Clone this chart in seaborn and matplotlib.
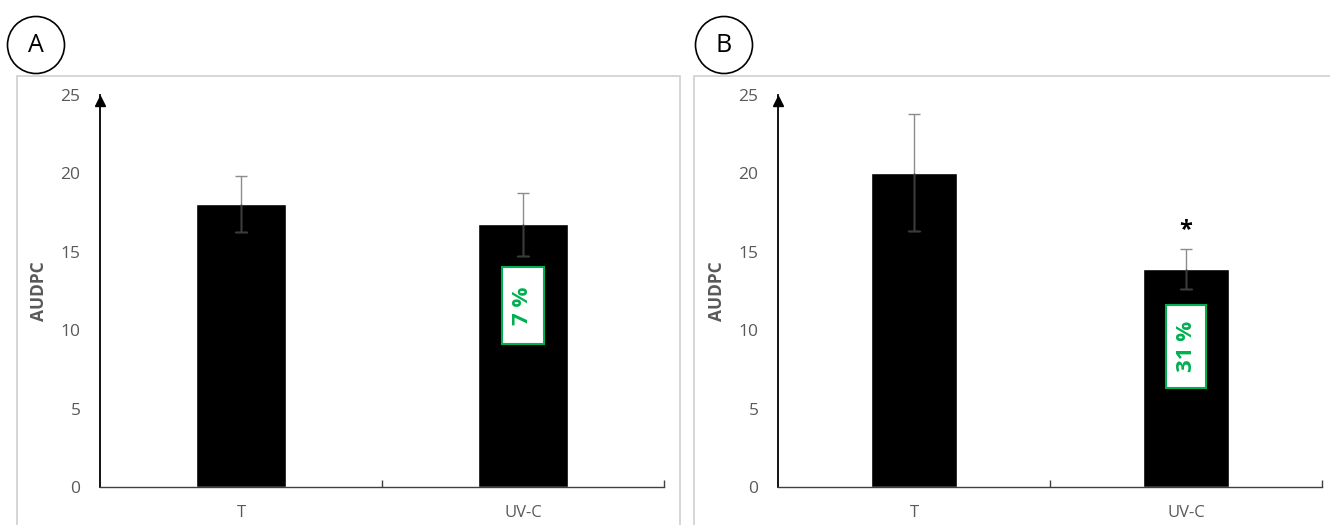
import numpy as np
import pandas as pd
import matplotlib
matplotlib.use("Agg")
import matplotlib.pyplot as plt
from matplotlib.patches import Rectangle, Ellipse
import seaborn as sns

# data
treatments = ["T", "UV-C"]
audpc_a = [18.05, 16.75]
err_a = [1.8, 2.0]
audpc_b = [20.05, 13.9]
err_b = [3.75, 1.3]
reduction_a = ["", "7 %"]
reduction_b = ["", "31 %"]
signif_b = ["", "*"]
panel_names = ["A", "B"]

sns.set_theme(style="white")
plt.rcParams['font.family'] = ['Open Sans', 'DejaVu Sans']

grey_txt = "#595959"
green = "#00B050"

fig = plt.figure(figsize=(13.3, 5.25), dpi=100)
W, H = 1330, 525

# axes rectangles in pixels: (left, right)
ax_px = [(100, 664), (778, 1322)]
frame_px = [(17, 680), (694, 1340)]
circle_px = [(36, 45), (724, 45)]
label_y = [(9.1, 14.0), (6.3, 11.6)]

for i, (vals, errs, red, name) in enumerate(zip([audpc_a, audpc_b], [err_a, err_b],
                                                [reduction_a, reduction_b], panel_names)):
    l, r = ax_px[i]
    ax = fig.add_axes([l / W, (525 - 487) / H, (r - l) / W, (487 - 95) / H])
    df = pd.DataFrame({"trt": treatments, "audpc": vals})
    sns.barplot(data=df, x="trt", y="audpc", color="black", width=0.318,
                errorbar=None, ax=ax, saturation=1)
    # error bars: upper half grey, lower half dark on the bar
    x = np.arange(len(vals))
    v = np.array(vals)
    e = np.array(errs)
    ax.errorbar(x, v, yerr=e, fmt="none", ecolor="#8c8c8c",
                elinewidth=1, capsize=4, capthick=1, zorder=3)
    ax.vlines(x, v - e, v, color="#3a3a3a", linewidth=1, zorder=4)
    ax.plot(x, v - e, linestyle="none", marker="_", markersize=8,
            markeredgewidth=1, color="#3a3a3a", zorder=4)

    ax.set_xlim(-0.5, 1.5)
    ax.set_ylim(0, 25)
    ax.set_yticks([0, 5, 10, 15, 20, 25])
    ax.tick_params(axis="y", direction="in", length=5, color="black", width=1,
                   labelsize=12.5, labelcolor=grey_txt, pad=14)
    ax.tick_params(axis="x", which="major", length=0, labelsize=12,
                   labelcolor=grey_txt, pad=13)
    ax.set_xticks([0.5, 1.5], minor=True)
    ax.tick_params(axis="x", which="minor", direction="in", length=5,
                   color="#404040", width=1, bottom=True)
    ax.set_xlabel("")
    ax.set_ylabel("AUDPC", fontsize=12.5, fontweight="bold", color=grey_txt, labelpad=9)
    for s in ["top", "right"]:
        ax.spines[s].set_visible(False)
    ax.spines["left"].set_color("black")
    ax.spines["left"].set_linewidth(1.3)
    ax.spines["bottom"].set_color("#404040")
    ax.spines["bottom"].set_linewidth(1)
    ax.plot([-0.5], [24.6], marker="^", color="black", markersize=7, clip_on=False)
    ax.patch.set_alpha(0)

    # percentage reduction boxes
    for j, t in enumerate(red):
        if t:
            y0, y1 = label_y[i]
            bw = 0.15
            ax.add_patch(Rectangle((j - bw / 2, y0), bw, y1 - y0, facecolor="white",
                                   edgecolor=green, linewidth=1.5, zorder=5))
            ax.text(j, (y0 + y1) / 2, t, rotation=90, ha="center", va="center",
                    color=green, fontsize=16, fontweight="bold", zorder=6)
    if i == 1:
        for j, s in enumerate(signif_b):
            if s:
                ax.text(j, vals[j] + errs[j] + 0.4, s, ha="center", va="bottom",
                        fontsize=17, fontweight="bold", color="black")

    # outer frame
    fl, fr = frame_px[i]
    fig.add_artist(Rectangle((fl / W, -0.01), (fr - fl) / W, (525 - 76) / H + 0.01,
                             transform=fig.transFigure, fill=False,
                             edgecolor="#d0d0d0", linewidth=1.2))
    # panel letter in circle
    cx, cy = circle_px[i]
    fig.add_artist(Ellipse((cx / W, 1 - cy / H), 57 / W, 57 / H,
                           transform=fig.transFigure, fill=False,
                           edgecolor="black", linewidth=1.2))
    fig.text(cx / W, 1 - cy / H, name, ha="center", va="center", fontsize=18,
             color="black")

fig.savefig("out.png", dpi=100)
